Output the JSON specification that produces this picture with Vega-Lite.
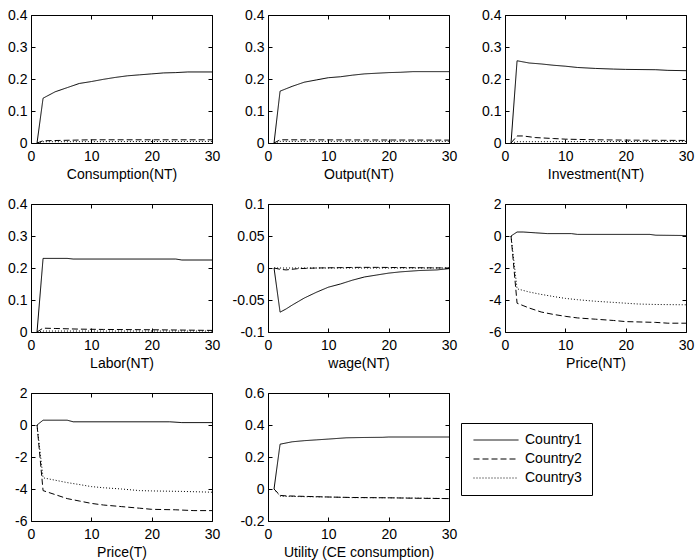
{
"$schema":"https://vega.github.io/schema/vega-lite/v6.json",
"background":"white",
"padding":{"left":7,"top":7,"right":0,"bottom":0},
"datasets":{"d":[
{"p":"cons","s":"Country1","t":1,"v":0},{"p":"cons","s":"Country1","t":2,"v":0.14},{"p":"cons","s":"Country1","t":3,"v":0.15},{"p":"cons","s":"Country1","t":4,"v":0.16},{"p":"cons","s":"Country1","t":6,"v":0.173},{"p":"cons","s":"Country1","t":8,"v":0.186},{"p":"cons","s":"Country1","t":10,"v":0.192},{"p":"cons","s":"Country1","t":12,"v":0.199},{"p":"cons","s":"Country1","t":14,"v":0.205},{"p":"cons","s":"Country1","t":16,"v":0.21},{"p":"cons","s":"Country1","t":18,"v":0.213},{"p":"cons","s":"Country1","t":20,"v":0.216},{"p":"cons","s":"Country1","t":22,"v":0.219},{"p":"cons","s":"Country1","t":24,"v":0.22},{"p":"cons","s":"Country1","t":26,"v":0.222},{"p":"cons","s":"Country1","t":30,"v":0.222},
{"p":"cons","s":"Country2","t":1,"v":0},{"p":"cons","s":"Country2","t":2,"v":0.007},{"p":"cons","s":"Country2","t":10,"v":0.01},{"p":"cons","s":"Country2","t":30,"v":0.01},
{"p":"cons","s":"Country3","t":1,"v":0},{"p":"cons","s":"Country3","t":2,"v":0.004},{"p":"cons","s":"Country3","t":30,"v":0.005},
{"p":"out","s":"Country1","t":1,"v":0},{"p":"out","s":"Country1","t":2,"v":0.162},{"p":"out","s":"Country1","t":4,"v":0.177},{"p":"out","s":"Country1","t":6,"v":0.19},{"p":"out","s":"Country1","t":8,"v":0.197},{"p":"out","s":"Country1","t":10,"v":0.204},{"p":"out","s":"Country1","t":12,"v":0.207},{"p":"out","s":"Country1","t":14,"v":0.212},{"p":"out","s":"Country1","t":16,"v":0.216},{"p":"out","s":"Country1","t":18,"v":0.218},{"p":"out","s":"Country1","t":20,"v":0.22},{"p":"out","s":"Country1","t":22,"v":0.221},{"p":"out","s":"Country1","t":24,"v":0.223},{"p":"out","s":"Country1","t":30,"v":0.223},
{"p":"out","s":"Country2","t":1,"v":0},{"p":"out","s":"Country2","t":2,"v":0.01},{"p":"out","s":"Country2","t":30,"v":0.009},
{"p":"out","s":"Country3","t":1,"v":0},{"p":"out","s":"Country3","t":2,"v":0.005},{"p":"out","s":"Country3","t":30,"v":0.005},
{"p":"inv","s":"Country1","t":1,"v":0},{"p":"inv","s":"Country1","t":2,"v":0.257},{"p":"inv","s":"Country1","t":4,"v":0.25},{"p":"inv","s":"Country1","t":6,"v":0.247},{"p":"inv","s":"Country1","t":8,"v":0.243},{"p":"inv","s":"Country1","t":10,"v":0.24},{"p":"inv","s":"Country1","t":12,"v":0.236},{"p":"inv","s":"Country1","t":15,"v":0.233},{"p":"inv","s":"Country1","t":18,"v":0.231},{"p":"inv","s":"Country1","t":20,"v":0.23},{"p":"inv","s":"Country1","t":25,"v":0.229},{"p":"inv","s":"Country1","t":27,"v":0.227},{"p":"inv","s":"Country1","t":30,"v":0.226},
{"p":"inv","s":"Country2","t":1,"v":0},{"p":"inv","s":"Country2","t":2,"v":0.022},{"p":"inv","s":"Country2","t":3,"v":0.022},{"p":"inv","s":"Country2","t":5,"v":0.017},{"p":"inv","s":"Country2","t":8,"v":0.014},{"p":"inv","s":"Country2","t":10,"v":0.012},{"p":"inv","s":"Country2","t":15,"v":0.01},{"p":"inv","s":"Country2","t":20,"v":0.009},{"p":"inv","s":"Country2","t":30,"v":0.008},
{"p":"inv","s":"Country3","t":1,"v":0},{"p":"inv","s":"Country3","t":2,"v":0.004},{"p":"inv","s":"Country3","t":30,"v":0.005},
{"p":"lab","s":"Country1","t":1,"v":0},{"p":"lab","s":"Country1","t":2,"v":0.23},{"p":"lab","s":"Country1","t":6,"v":0.23},{"p":"lab","s":"Country1","t":7,"v":0.228},{"p":"lab","s":"Country1","t":24,"v":0.228},{"p":"lab","s":"Country1","t":25,"v":0.225},{"p":"lab","s":"Country1","t":30,"v":0.225},
{"p":"lab","s":"Country2","t":1,"v":0},{"p":"lab","s":"Country2","t":2,"v":0.012},{"p":"lab","s":"Country2","t":4,"v":0.011},{"p":"lab","s":"Country2","t":8,"v":0.009},{"p":"lab","s":"Country2","t":12,"v":0.008},{"p":"lab","s":"Country2","t":20,"v":0.007},{"p":"lab","s":"Country2","t":30,"v":0.005},
{"p":"lab","s":"Country3","t":1,"v":0},{"p":"lab","s":"Country3","t":2,"v":0.003},{"p":"lab","s":"Country3","t":30,"v":0.003},
{"p":"wage","s":"Country1","t":1,"v":0},{"p":"wage","s":"Country1","t":2,"v":-0.069},{"p":"wage","s":"Country1","t":3,"v":-0.064},{"p":"wage","s":"Country1","t":4,"v":-0.058},{"p":"wage","s":"Country1","t":6,"v":-0.047},{"p":"wage","s":"Country1","t":8,"v":-0.038},{"p":"wage","s":"Country1","t":10,"v":-0.03},{"p":"wage","s":"Country1","t":12,"v":-0.025},{"p":"wage","s":"Country1","t":14,"v":-0.019},{"p":"wage","s":"Country1","t":16,"v":-0.014},{"p":"wage","s":"Country1","t":18,"v":-0.011},{"p":"wage","s":"Country1","t":20,"v":-0.008},{"p":"wage","s":"Country1","t":22,"v":-0.006},{"p":"wage","s":"Country1","t":25,"v":-0.004},{"p":"wage","s":"Country1","t":28,"v":-0.003},{"p":"wage","s":"Country1","t":30,"v":-0.001},
{"p":"wage","s":"Country2","t":1,"v":0},{"p":"wage","s":"Country2","t":2,"v":-0.002},{"p":"wage","s":"Country2","t":3,"v":-0.003},{"p":"wage","s":"Country2","t":5,"v":-0.001},{"p":"wage","s":"Country2","t":8,"v":0},{"p":"wage","s":"Country2","t":15,"v":0.001},{"p":"wage","s":"Country2","t":18,"v":0.001},{"p":"wage","s":"Country2","t":30,"v":0},
{"p":"wage","s":"Country3","t":1,"v":0},{"p":"wage","s":"Country3","t":30,"v":0},
{"p":"pnt","s":"Country1","t":1,"v":0},{"p":"pnt","s":"Country1","t":2,"v":0.25},{"p":"pnt","s":"Country1","t":3,"v":0.25},{"p":"pnt","s":"Country1","t":5,"v":0.2},{"p":"pnt","s":"Country1","t":7,"v":0.15},{"p":"pnt","s":"Country1","t":11,"v":0.15},{"p":"pnt","s":"Country1","t":12,"v":0.1},{"p":"pnt","s":"Country1","t":24,"v":0.1},{"p":"pnt","s":"Country1","t":25,"v":0.05},{"p":"pnt","s":"Country1","t":30,"v":0.03},
{"p":"pnt","s":"Country2","t":1,"v":0},{"p":"pnt","s":"Country2","t":2,"v":-4.2},{"p":"pnt","s":"Country2","t":3,"v":-4.35},{"p":"pnt","s":"Country2","t":4,"v":-4.5},{"p":"pnt","s":"Country2","t":6,"v":-4.75},{"p":"pnt","s":"Country2","t":8,"v":-4.9},{"p":"pnt","s":"Country2","t":10,"v":-5.02},{"p":"pnt","s":"Country2","t":12,"v":-5.12},{"p":"pnt","s":"Country2","t":15,"v":-5.2},{"p":"pnt","s":"Country2","t":18,"v":-5.28},{"p":"pnt","s":"Country2","t":20,"v":-5.35},{"p":"pnt","s":"Country2","t":25,"v":-5.4},{"p":"pnt","s":"Country2","t":27,"v":-5.45},{"p":"pnt","s":"Country2","t":30,"v":-5.45},
{"p":"pnt","s":"Country3","t":1,"v":0},{"p":"pnt","s":"Country3","t":2,"v":-3.3},{"p":"pnt","s":"Country3","t":4,"v":-3.5},{"p":"pnt","s":"Country3","t":6,"v":-3.65},{"p":"pnt","s":"Country3","t":8,"v":-3.78},{"p":"pnt","s":"Country3","t":10,"v":-3.9},{"p":"pnt","s":"Country3","t":12,"v":-3.98},{"p":"pnt","s":"Country3","t":15,"v":-4.08},{"p":"pnt","s":"Country3","t":18,"v":-4.15},{"p":"pnt","s":"Country3","t":20,"v":-4.2},{"p":"pnt","s":"Country3","t":22,"v":-4.25},{"p":"pnt","s":"Country3","t":25,"v":-4.28},{"p":"pnt","s":"Country3","t":30,"v":-4.3},
{"p":"pt","s":"Country1","t":1,"v":0},{"p":"pt","s":"Country1","t":2,"v":0.3},{"p":"pt","s":"Country1","t":6,"v":0.3},{"p":"pt","s":"Country1","t":7,"v":0.2},{"p":"pt","s":"Country1","t":23,"v":0.2},{"p":"pt","s":"Country1","t":25,"v":0.15},{"p":"pt","s":"Country1","t":30,"v":0.15},
{"p":"pt","s":"Country2","t":1,"v":0},{"p":"pt","s":"Country2","t":2,"v":-4.1},{"p":"pt","s":"Country2","t":4,"v":-4.35},{"p":"pt","s":"Country2","t":6,"v":-4.6},{"p":"pt","s":"Country2","t":8,"v":-4.75},{"p":"pt","s":"Country2","t":10,"v":-4.9},{"p":"pt","s":"Country2","t":12,"v":-5.0},{"p":"pt","s":"Country2","t":15,"v":-5.1},{"p":"pt","s":"Country2","t":18,"v":-5.2},{"p":"pt","s":"Country2","t":20,"v":-5.27},{"p":"pt","s":"Country2","t":24,"v":-5.3},{"p":"pt","s":"Country2","t":27,"v":-5.35},{"p":"pt","s":"Country2","t":30,"v":-5.35},
{"p":"pt","s":"Country3","t":1,"v":0},{"p":"pt","s":"Country3","t":2,"v":-3.3},{"p":"pt","s":"Country3","t":4,"v":-3.45},{"p":"pt","s":"Country3","t":6,"v":-3.6},{"p":"pt","s":"Country3","t":8,"v":-3.72},{"p":"pt","s":"Country3","t":10,"v":-3.85},{"p":"pt","s":"Country3","t":12,"v":-3.92},{"p":"pt","s":"Country3","t":15,"v":-4.0},{"p":"pt","s":"Country3","t":18,"v":-4.1},{"p":"pt","s":"Country3","t":20,"v":-4.12},{"p":"pt","s":"Country3","t":25,"v":-4.15},{"p":"pt","s":"Country3","t":30,"v":-4.2},
{"p":"util","s":"Country1","t":1,"v":0},{"p":"util","s":"Country1","t":2,"v":0.28},{"p":"util","s":"Country1","t":4,"v":0.295},{"p":"util","s":"Country1","t":6,"v":0.302},{"p":"util","s":"Country1","t":8,"v":0.307},{"p":"util","s":"Country1","t":10,"v":0.312},{"p":"util","s":"Country1","t":13,"v":0.32},{"p":"util","s":"Country1","t":16,"v":0.322},{"p":"util","s":"Country1","t":19,"v":0.323},{"p":"util","s":"Country1","t":20,"v":0.325},{"p":"util","s":"Country1","t":30,"v":0.325},
{"p":"util","s":"Country2","t":1,"v":0},{"p":"util","s":"Country2","t":2,"v":-0.04},{"p":"util","s":"Country2","t":3,"v":-0.043},{"p":"util","s":"Country2","t":6,"v":-0.046},{"p":"util","s":"Country2","t":10,"v":-0.05},{"p":"util","s":"Country2","t":14,"v":-0.053},{"p":"util","s":"Country2","t":20,"v":-0.055},{"p":"util","s":"Country2","t":25,"v":-0.058},{"p":"util","s":"Country2","t":30,"v":-0.06},
{"p":"util","s":"Country3","t":1,"v":0},{"p":"util","s":"Country3","t":2,"v":-0.045},{"p":"util","s":"Country3","t":6,"v":-0.048},{"p":"util","s":"Country3","t":10,"v":-0.05},{"p":"util","s":"Country3","t":14,"v":-0.054},{"p":"util","s":"Country3","t":20,"v":-0.055},{"p":"util","s":"Country3","t":25,"v":-0.057},{"p":"util","s":"Country3","t":30,"v":-0.06}
]},
"data":{"name":"d"},
"columns":3,
"spacing":{"row":61,"column":56},
"bounds":"flush",
"concat":[
{"width":181,"height":128,"transform":[{"filter":"datum.p==='cons'"}],"resolve":{"axis":{"x":"independent","y":"independent"}},"layer":[
 {"mark":{"type":"line","color":"black","strokeWidth":1},"encoding":{"x":{"field":"t","type":"quantitative","scale":{"domain":[0,30],"nice":false},"axis":{"values":[0,10,20,30],"title":"Consumption(NT)"}},"y":{"field":"v","type":"quantitative","scale":{"domain":[0,0.4],"nice":false},"axis":{"values":[0,0.1,0.2,0.3,0.4],"title":null}},"strokeDash":{"field":"s","type":"nominal","scale":{"domain":["Country1","Country2","Country3"],"range":[[1,0],[6,3],[1,2]]},"legend":{"title":null,"orient":"none","legendX":430,"legendY":408,"symbolType":"M-1,0H9","symbolSize":81,"symbolStrokeWidth":1,"symbolStrokeColor":"black","symbolOpacity":1,"labelFontSize":14,"labelFont":"Liberation Sans","labelColor":"black","strokeColor":"black","fillColor":"white","padding":10,"rowPadding":5,"labelOffset":40}}}},
 {"mark":{"type":"line","strokeOpacity":0},"encoding":{"x":{"field":"t","type":"quantitative","scale":{"domain":[0,30],"nice":false},"axis":{"orient":"top","values":[0,10,20,30],"labels":false,"title":null}},"y":{"field":"v","type":"quantitative","scale":{"domain":[0,0.4],"nice":false},"axis":{"orient":"right","values":[0,0.1,0.2,0.3,0.4],"labels":false,"title":null}},"detail":{"field":"s"}}}
]},
{"width":181,"height":128,"transform":[{"filter":"datum.p==='out'"}],"resolve":{"axis":{"x":"independent","y":"independent"}},"layer":[
 {"mark":{"type":"line","color":"black","strokeWidth":1},"encoding":{"x":{"field":"t","type":"quantitative","scale":{"domain":[0,30],"nice":false},"axis":{"values":[0,10,20,30],"title":"Output(NT)"}},"y":{"field":"v","type":"quantitative","scale":{"domain":[0,0.4],"nice":false},"axis":{"values":[0,0.1,0.2,0.3,0.4],"title":null}},"strokeDash":{"field":"s","type":"nominal"}}},
 {"mark":{"type":"line","strokeOpacity":0},"encoding":{"x":{"field":"t","type":"quantitative","scale":{"domain":[0,30],"nice":false},"axis":{"orient":"top","values":[0,10,20,30],"labels":false,"title":null}},"y":{"field":"v","type":"quantitative","scale":{"domain":[0,0.4],"nice":false},"axis":{"orient":"right","values":[0,0.1,0.2,0.3,0.4],"labels":false,"title":null}},"detail":{"field":"s"}}}
]},
{"width":181,"height":128,"transform":[{"filter":"datum.p==='inv'"}],"resolve":{"axis":{"x":"independent","y":"independent"}},"layer":[
 {"mark":{"type":"line","color":"black","strokeWidth":1},"encoding":{"x":{"field":"t","type":"quantitative","scale":{"domain":[0,30],"nice":false},"axis":{"values":[0,10,20,30],"title":"Investment(NT)"}},"y":{"field":"v","type":"quantitative","scale":{"domain":[0,0.4],"nice":false},"axis":{"values":[0,0.1,0.2,0.3,0.4],"title":null}},"strokeDash":{"field":"s","type":"nominal"}}},
 {"mark":{"type":"line","strokeOpacity":0},"encoding":{"x":{"field":"t","type":"quantitative","scale":{"domain":[0,30],"nice":false},"axis":{"orient":"top","values":[0,10,20,30],"labels":false,"title":null}},"y":{"field":"v","type":"quantitative","scale":{"domain":[0,0.4],"nice":false},"axis":{"orient":"right","values":[0,0.1,0.2,0.3,0.4],"labels":false,"title":null}},"detail":{"field":"s"}}}
]},
{"width":181,"height":128,"transform":[{"filter":"datum.p==='lab'"}],"resolve":{"axis":{"x":"independent","y":"independent"}},"layer":[
 {"mark":{"type":"line","color":"black","strokeWidth":1},"encoding":{"x":{"field":"t","type":"quantitative","scale":{"domain":[0,30],"nice":false},"axis":{"values":[0,10,20,30],"title":"Labor(NT)"}},"y":{"field":"v","type":"quantitative","scale":{"domain":[0,0.4],"nice":false},"axis":{"values":[0,0.1,0.2,0.3,0.4],"title":null}},"strokeDash":{"field":"s","type":"nominal"}}},
 {"mark":{"type":"line","strokeOpacity":0},"encoding":{"x":{"field":"t","type":"quantitative","scale":{"domain":[0,30],"nice":false},"axis":{"orient":"top","values":[0,10,20,30],"labels":false,"title":null}},"y":{"field":"v","type":"quantitative","scale":{"domain":[0,0.4],"nice":false},"axis":{"orient":"right","values":[0,0.1,0.2,0.3,0.4],"labels":false,"title":null}},"detail":{"field":"s"}}}
]},
{"width":181,"height":128,"transform":[{"filter":"datum.p==='wage'"}],"resolve":{"axis":{"x":"independent","y":"independent"}},"layer":[
 {"mark":{"type":"line","color":"black","strokeWidth":1},"encoding":{"x":{"field":"t","type":"quantitative","scale":{"domain":[0,30],"nice":false},"axis":{"values":[0,10,20,30],"title":"wage(NT)"}},"y":{"field":"v","type":"quantitative","scale":{"domain":[-0.1,0.1],"nice":false},"axis":{"values":[-0.1,-0.05,0,0.05,0.1],"title":null}},"strokeDash":{"field":"s","type":"nominal"}}},
 {"mark":{"type":"line","strokeOpacity":0},"encoding":{"x":{"field":"t","type":"quantitative","scale":{"domain":[0,30],"nice":false},"axis":{"orient":"top","values":[0,10,20,30],"labels":false,"title":null}},"y":{"field":"v","type":"quantitative","scale":{"domain":[-0.1,0.1],"nice":false},"axis":{"orient":"right","values":[-0.1,-0.05,0,0.05,0.1],"labels":false,"title":null}},"detail":{"field":"s"}}}
]},
{"width":181,"height":128,"transform":[{"filter":"datum.p==='pnt'"}],"resolve":{"axis":{"x":"independent","y":"independent"}},"layer":[
 {"mark":{"type":"line","color":"black","strokeWidth":1},"encoding":{"x":{"field":"t","type":"quantitative","scale":{"domain":[0,30],"nice":false},"axis":{"values":[0,10,20,30],"title":"Price(NT)"}},"y":{"field":"v","type":"quantitative","scale":{"domain":[-6,2],"nice":false},"axis":{"values":[-6,-4,-2,0,2],"title":null}},"strokeDash":{"field":"s","type":"nominal"}}},
 {"mark":{"type":"line","strokeOpacity":0},"encoding":{"x":{"field":"t","type":"quantitative","scale":{"domain":[0,30],"nice":false},"axis":{"orient":"top","values":[0,10,20,30],"labels":false,"title":null}},"y":{"field":"v","type":"quantitative","scale":{"domain":[-6,2],"nice":false},"axis":{"orient":"right","values":[-6,-4,-2,0,2],"labels":false,"title":null}},"detail":{"field":"s"}}}
]},
{"width":181,"height":128,"transform":[{"filter":"datum.p==='pt'"}],"resolve":{"axis":{"x":"independent","y":"independent"}},"layer":[
 {"mark":{"type":"line","color":"black","strokeWidth":1},"encoding":{"x":{"field":"t","type":"quantitative","scale":{"domain":[0,30],"nice":false},"axis":{"values":[0,10,20,30],"title":"Price(T)"}},"y":{"field":"v","type":"quantitative","scale":{"domain":[-6,2],"nice":false},"axis":{"values":[-6,-4,-2,0,2],"title":null}},"strokeDash":{"field":"s","type":"nominal"}}},
 {"mark":{"type":"line","strokeOpacity":0},"encoding":{"x":{"field":"t","type":"quantitative","scale":{"domain":[0,30],"nice":false},"axis":{"orient":"top","values":[0,10,20,30],"labels":false,"title":null}},"y":{"field":"v","type":"quantitative","scale":{"domain":[-6,2],"nice":false},"axis":{"orient":"right","values":[-6,-4,-2,0,2],"labels":false,"title":null}},"detail":{"field":"s"}}}
]},
{"width":181,"height":128,"transform":[{"filter":"datum.p==='util'"}],"resolve":{"axis":{"x":"independent","y":"independent"}},"layer":[
 {"mark":{"type":"line","color":"black","strokeWidth":1},"encoding":{"x":{"field":"t","type":"quantitative","scale":{"domain":[0,30],"nice":false},"axis":{"values":[0,10,20,30],"title":"Utility (CE consumption)"}},"y":{"field":"v","type":"quantitative","scale":{"domain":[-0.2,0.6],"nice":false},"axis":{"values":[-0.2,0,0.2,0.4,0.6],"title":null}},"strokeDash":{"field":"s","type":"nominal"}}},
 {"mark":{"type":"line","strokeOpacity":0},"encoding":{"x":{"field":"t","type":"quantitative","scale":{"domain":[0,30],"nice":false},"axis":{"orient":"top","values":[0,10,20,30],"labels":false,"title":null}},"y":{"field":"v","type":"quantitative","scale":{"domain":[-0.2,0.6],"nice":false},"axis":{"orient":"right","values":[-0.2,0,0.2,0.4,0.6],"labels":false,"title":null}},"detail":{"field":"s"}}}
]}
],
"config":{
 "locale":{"number":{"decimal":".","thousands":",","grouping":[3],"currency":["$",""],"minus":"-"}},
 "view":{"stroke":"black","strokeWidth":1},
 "axis":{"labelFont":"Liberation Sans","labelFontSize":14,"labelColor":"black","titleFont":"Liberation Sans","titleFontSize":14,"titleFontWeight":"normal","titleColor":"black","domain":false,"grid":false,"tickColor":"black","tickSize":-4,"tickWidth":1,"titlePadding":4,"labelFlush":false,"labelOverlap":false,"format":"~r"},
 "axisX":{"labelPadding":10},
 "axisY":{"labelPadding":8}
}
}
